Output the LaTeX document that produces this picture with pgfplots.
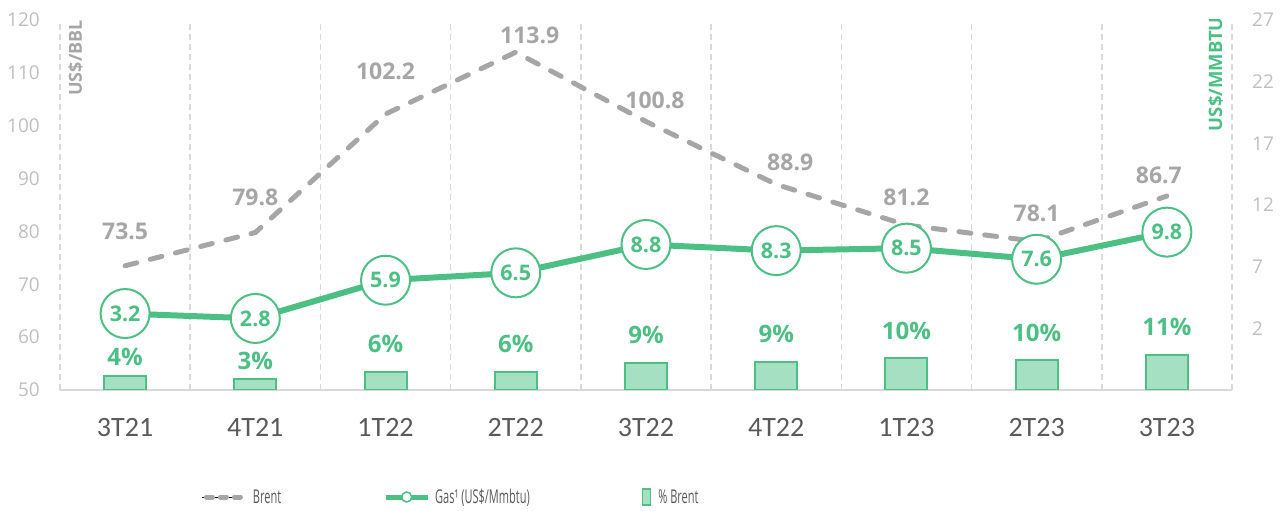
\documentclass[border=0pt]{standalone}
\usepackage{pgfplots}
\usepackage{pgfplotstable}
\usepackage{graphicx}
\pgfplotsset{compat=1.18}
\usepackage{fontspec}
\setmainfont{Open Sans}
\newfontfamily\carlito{Carlito}
\definecolor{gasgreen}{RGB}{76,192,132}
\definecolor{barfill}{RGB}{166,224,194}
\definecolor{brentgray}{RGB}{166,166,166}
\definecolor{tickgray}{RGB}{191,191,191}
\definecolor{gridgray}{RGB}{217,217,217}
\definecolor{xlabgray}{RGB}{89,89,89}
\newcommand{\legtext}[1]{\scalebox{0.58}[1]{\fontsize{19}{19}\selectfont #1}}

\pgfplotstableread{
x y lab dy dx
0 73.5 73.5 34 0
1 79.8 79.8 35 0
2 102.2 102.2 43 0
3 113.9 113.9 17 14
4 100.8 100.8 21 9
5 88.9 88.9 22 14
6 81.2 81.2 28 0
7 78.1 78.1 28 0
8 86.7 86.7 21 -8
}\brent

\pgfplotstableread{
x y lab
0 3.2 3.2
1 2.8 2.8
2 5.9 5.9
3 6.5 6.5
4 8.8 8.8
5 8.3 8.3
6 8.5 8.5
7 7.6 7.6
8 9.8 9.8
}\gas

\pgfplotstableread{
x y lab dy
0 52.65 4 19
1 52.10 3 18
2 53.35 6 28
3 53.35 6 28
4 55.05 9 28
5 55.36 9 28
6 56.10 10 27
7 55.60 10 27
8 56.60 11 28
}\pct

\begin{document}
\begin{tikzpicture}
\pgfplotsset{
  common/.style={
    scale only axis, width=1172pt, height=370pt,
    xmin=-0.5, xmax=8.5,
    at={(0,0)}, anchor=south west,
    major tick length=0pt, minor tick length=0pt,
    /pgf/number format/assume math mode=true,
  }
}
\begin{axis}[common,
  ymin=50, ymax=120, ytick={50,60,...,120},
  axis x line*=bottom, axis y line*=left,
  x axis line style={draw=gridgray, line width=2pt, -},
  y axis line style={draw=none},
  xtick={0,...,8},
  xticklabels={3T21,4T21,1T22,2T22,3T22,4T22,1T23,2T23,3T23},
  minor xtick={-0.5,0.5,...,8.5}, xminorgrids,
  minor x grid style={gridgray, line width=1.5pt, dash pattern=on 6pt off 4pt},
  xticklabel style={font=\carlito\fontsize{28}{28}\selectfont, text=xlabgray, inner sep=0pt, anchor=north, yshift=-28pt},
  yticklabel style={font=\fontsize{19}{19}\selectfont, text=tickgray, inner sep=0pt, anchor=east, xshift=-20pt},
]
\addplot[ybar, bar width=42pt, draw=gasgreen, fill=barfill, line width=2pt,
  point meta=explicit symbolic,
  nodes near coords={\pgfplotspointmeta\%},
  visualization depends on={\thisrow{dy} \as \dy},
  every node near coord/.append style={font=\bfseries\fontsize{24}{24}\selectfont, text=gasgreen, anchor=center, yshift=\dy}]
  table[x=x, y=y, meta=lab] {\pct};
\addplot[brentgray, line width=5pt, dash pattern=on 12pt off 14pt, line cap=round, mark=none,
  point meta=explicit symbolic, nodes near coords,
  visualization depends on={\thisrow{dy} \as \dy},
  visualization depends on={\thisrow{dx} \as \dx},
  every node near coord/.append style={font=\bfseries\fontsize{23}{23}\selectfont, text=brentgray, anchor=center, yshift=\dy, xshift=\dx}]
  table[x=x, y=y, meta=lab] {\brent};
\node[rotate=90, anchor=north east, inner sep=0pt, font=\bfseries\fontsize{18}{18}\selectfont, text=brentgray] at ([xshift=8pt]rel axis cs:0,1) {US\$/BBL};
\end{axis}

\begin{axis}[common,
  ymin=-3, ymax=27, ytick={2,7,...,27},
  axis y line*=right, axis x line=none,
  y axis line style={draw=none},
  yticklabel style={font=\fontsize{19}{19}\selectfont, text=tickgray, inner sep=0pt, anchor=west, xshift=20pt},
  legend columns=3,
  legend style={draw=none, fill=none, inner sep=0pt, column sep=0pt,
    at={(0.1212,-0.2892)}, anchor=west, text=xlabgray},
  legend cell align=left,
]
\addlegendimage{legend image code/.code={
  \path (-2pt,0) -- (38pt,0);
  \draw[brentgray, line width=5pt, line cap=round, dash pattern=on 6pt off 8pt] (2pt,0) -- (36pt,0);}}
\addlegendentry{\hspace*{8pt}\legtext{Brent}\hspace*{100pt}}
\addplot[gasgreen, line width=6pt, mark=*, mark size=24.5pt,
  mark options={fill=white, draw=gasgreen, line width=2pt, solid},
  point meta=explicit symbolic, nodes near coords,
  every node near coord/.append style={font=\bfseries\fontsize{21.5}{21.5}\selectfont, text=gasgreen, anchor=center},
  legend image code/.code={
    \draw[gasgreen, line width=5pt] (0pt,0) -- (42pt,0);
    \draw[gasgreen, fill=white, line width=1.5pt] (21pt,0) circle (5pt);}]
  table[x=x, y=y, meta=lab] {\gas};
\addlegendentry{\hspace*{3pt}\legtext{Gas¹ (US\$/Mmbtu)}\hspace*{110pt}}
\addlegendimage{legend image code/.code={
  \draw[gasgreen, fill=barfill, line width=1.5pt] (0pt,-8pt) rectangle (8pt,8pt);}}
\addlegendentry{\hspace*{5pt}\legtext{\% Brent}}
\node[rotate=90, anchor=north east, inner sep=0pt, font=\bfseries\fontsize{18.5}{18.5}\selectfont, text=gasgreen] at ([xshift=-24pt, yshift=3pt]rel axis cs:1,1) {US\$/MMBTU};
\end{axis}
\path[use as bounding box] (-60pt,-121pt) rectangle (1225pt,390pt);
\end{tikzpicture}
\end{document}
